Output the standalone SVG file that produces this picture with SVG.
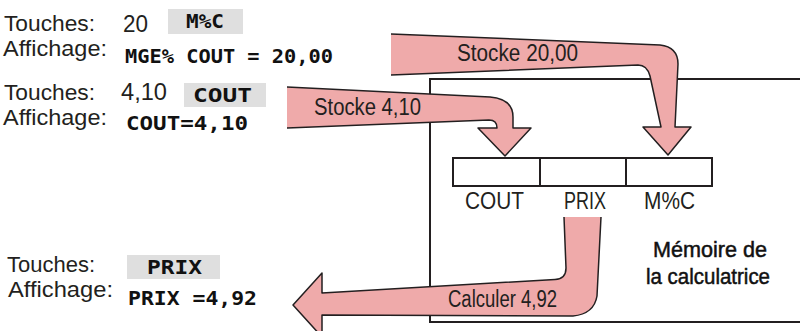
<svg xmlns="http://www.w3.org/2000/svg" width="800" height="331" viewBox="0 0 800 331">
<style>
.t{font-family:"Liberation Sans","DejaVu Sans",sans-serif;font-size:23px;fill:#231F20}
.l{font-family:"Liberation Sans","DejaVu Sans",sans-serif;font-size:22px;fill:#231F20}
.m{font-family:"DejaVu Sans Mono","Liberation Mono",monospace;font-weight:bold;font-size:20px;fill:#111}
.key{fill:#DFDFDF}
.box{fill:none;stroke:#231F20;stroke-width:2}
.af{fill:#EFAAAA;stroke:none}
.as{fill:none;stroke:#231F20;stroke-width:1.5;stroke-linejoin:round}
.cap{font-family:"Liberation Sans","DejaVu Sans",sans-serif;font-size:22px;fill:#111;stroke:#111;stroke-width:0.5}
</style>
<rect width="800" height="331" fill="#fff"/>

<g id="memory">
<rect class="box" x="430" y="79" width="380" height="243"/>
<rect class="box" x="453" y="158" width="259" height="28"/>
<line class="box" x1="540" y1="158" x2="540" y2="186"/>
<line class="box" x1="626" y1="158" x2="626" y2="186"/>
<text class="t" x="465" y="208.5" textLength="59" lengthAdjust="spacingAndGlyphs">COUT</text>
<text class="t" x="564" y="208.5" textLength="42" lengthAdjust="spacingAndGlyphs">PRIX</text>
<text class="t" x="644" y="208.5" textLength="51" lengthAdjust="spacingAndGlyphs">M%C</text>
<text class="cap" x="653" y="256.5" textLength="114" lengthAdjust="spacingAndGlyphs">Mémoire de</text>
<text class="cap" x="646" y="284" textLength="124" lengthAdjust="spacingAndGlyphs">la calculatrice</text>
</g>

<g id="step1">
<text class="l" x="4" y="31" textLength="91" lengthAdjust="spacingAndGlyphs">Touches:</text>
<text class="t" x="123" y="31.7" textLength="25" lengthAdjust="spacingAndGlyphs">20</text>
<rect class="key" x="168" y="9" width="75" height="25"/>
<text class="m" x="186" y="28" textLength="38" lengthAdjust="spacingAndGlyphs">M%C</text>
<text class="l" x="3" y="56" textLength="104" lengthAdjust="spacingAndGlyphs">Affichage:</text>
<text class="m" x="125" y="63" textLength="208" lengthAdjust="spacingAndGlyphs">MGE% COUT = 20,00</text>
</g>

<g id="step2">
<text class="l" x="4" y="100" textLength="91" lengthAdjust="spacingAndGlyphs">Touches:</text>
<text class="t" x="121" y="100" textLength="46" lengthAdjust="spacingAndGlyphs">4,10</text>
<rect class="key" x="184" y="83" width="82" height="24"/>
<text class="m" x="193" y="102" textLength="59" lengthAdjust="spacingAndGlyphs">COUT</text>
<text class="l" x="3" y="125" textLength="104" lengthAdjust="spacingAndGlyphs">Affichage:</text>
<text class="m" x="126" y="130" textLength="122" lengthAdjust="spacingAndGlyphs">COUT=4,10</text>
</g>

<g id="step3">
<text class="l" x="7" y="272" textLength="88" lengthAdjust="spacingAndGlyphs">Touches:</text>
<rect class="key" x="127" y="255" width="93" height="24"/>
<text class="m" x="147" y="273.5" textLength="55" lengthAdjust="spacingAndGlyphs">PRIX</text>
<text class="l" x="8" y="297" textLength="105" lengthAdjust="spacingAndGlyphs">Affichage:</text>
<text class="m" x="128" y="304.5" textLength="129" lengthAdjust="spacingAndGlyphs">PRIX =4,92</text>
</g>

<g id="connectors">
<g id="arrow-stocke-20">
<path class="af" d="M391,34 L660,45 Q678,47 678,64 L675,127 L691,127 L668,155 L643,127 L661,127 L650,76 Q647,65 638,65 L391,75 Z"/>
<path class="as" d="M391,34 L660,45 Q678,47 678,64 L675,127 L691,127 L668,155 L643,127 L661,127 L650,76 Q647,65 638,65 L391,75"/>
<text class="t" x="457" y="60.7" textLength="121" lengthAdjust="spacingAndGlyphs">Stocke 20,00</text>
</g>
<g id="arrow-stocke-4">
<path class="af" d="M287,87 L490,97 Q513,99 513,117 L513,128 L531,128 L505,156 L478,128 L497,128 Q497,120 489,120 L287,128 Z"/>
<path class="as" d="M287,87 L490,97 Q513,99 513,117 L513,128 L531,128 L505,156 L478,128 L497,128 Q497,120 489,120 L287,128"/>
<text class="t" x="314" y="115" textLength="107" lengthAdjust="spacingAndGlyphs">Stocke 4,10</text>
</g>
<g id="arrow-calculer">
<path class="af" d="M564,217 L566,268 Q566,279 555,279.5 L322,293 L322,273 L293,305 L322,337 L322,315 L573,316 Q594,314 597,296 L601,217 Z"/>
<path class="as" d="M564,217 L566,268 Q566,279 555,279.5 L322,293 L322,273 L293,305 L322,337 L322,315 L573,316 Q594,314 597,296 L601,217"/>
<text class="t" x="448" y="306.7" textLength="109" lengthAdjust="spacingAndGlyphs">Calculer 4,92</text>
</g>
</g>
</svg>
